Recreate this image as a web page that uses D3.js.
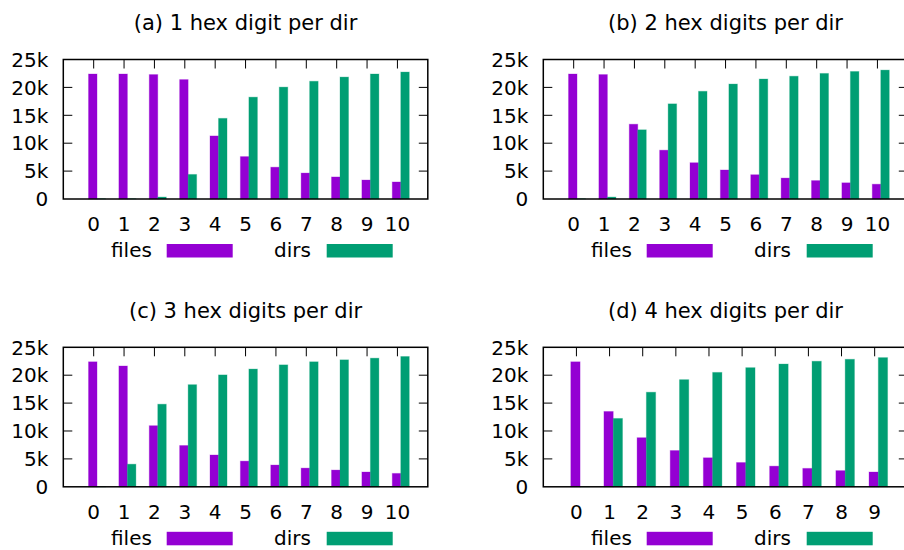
<!DOCTYPE html>
<html>
<head>
<meta charset="utf-8">
<script src="https://cdn.jsdelivr.net/npm/d3@7"></script>
<style>
  body { margin: 0; background: #fff; }
  svg { display: block; font-family: "DejaVu Sans", sans-serif; }
</style>
</head>
<body>
<div id="chart"></div>
<script>
// values (thousands)
const titles = ["(a) 1 hex digit per dir", "(b) 2 hex digits per dir", "(c) 3 hex digits per dir", "(d) 4 hex digits per dir"]
const levelsA = [0, 1, 2, 3, 4, 5, 6, 7, 8, 9, 10]
const levelsD = [0, 1, 2, 3, 4, 5, 6, 7, 8, 9]
const filesA = [22.4, 22.4, 22.3, 21.4, 11.3, 7.6, 5.7, 4.65, 3.95, 3.4, 3.05]
const dirsA  = [0.05, 0.05, 0.35, 4.4, 14.45, 18.25, 20.05, 21.1, 21.85, 22.4, 22.75]
const filesB = [22.4, 22.3, 13.4, 8.75, 6.5, 5.2, 4.35, 3.75, 3.3, 2.9, 2.65]
const dirsB  = [0.05, 0.35, 12.4, 17.05, 19.3, 20.6, 21.5, 22.0, 22.5, 22.85, 23.1]
const filesC = [22.4, 21.65, 10.95, 7.4, 5.7, 4.6, 3.9, 3.35, 3.0, 2.65, 2.4]
const dirsC  = [0.05, 4.05, 14.8, 18.3, 20.05, 21.1, 21.85, 22.4, 22.75, 23.05, 23.35]
const filesD = [22.4, 13.5, 8.8, 6.5, 5.2, 4.35, 3.7, 3.3, 2.9, 2.65]
const dirsD  = [0.05, 12.25, 16.95, 19.2, 20.5, 21.35, 22.0, 22.5, 22.85, 23.15]
const yTicks = [0, 5, 10, 15, 20, 25]
const yTickLabels = ["0", "5k", "10k", "15k", "20k", "25k"]
const seriesNames = ["files", "dirs"]
const colors = ["#9400d3", "#009e73"]

const panels = [
    { title: titles[0], levels: levelsA, files: filesA, dirs: dirsA, left: 63.3, top: 59.5 },
    { title: titles[1], levels: levelsA, files: filesB, dirs: dirsB, left: 543.3, top: 59.5 },
    { title: titles[2], levels: levelsA, files: filesC, dirs: dirsC, left: 63.3, top: 347.3 },
    { title: titles[3], levels: levelsD, files: filesD, dirs: dirsD, left: 543.3, top: 347.3 }
]

const width = 364.5, height = 139.5
const tickLen = 9

const svg = d3.select("#chart").append("svg")
    .attr("width", 904)
    .attr("height", 550)

panels.forEach(p => drawPanel(p))

function drawPanel(p) {
    const g = svg.append("g")
        .attr("transform", "translate(" + p.left + "," + p.top + ")")

    const n = p.levels.length
    const x = d3.scaleLinear().domain([-1, n]).range([0, width])
    const y = d3.scaleLinear().domain([0, 25]).range([height, 0])
    const s = x(1) - x(0)

    // title
    g.append("text")
        .attr("x", width / 2)
        .attr("y", -29.5)
        .attr("text-anchor", "middle")
        .style("font-size", "21px")
        .text(p.title)

    // y tick marks, left and mirrored right
    const inner = yTicks.filter(t => t > 0 && t < 25)
    g.selectAll(".ytl").data(inner).enter().append("line")
        .attr("x1", 0).attr("x2", tickLen)
        .attr("y1", d => y(d)).attr("y2", d => y(d))
        .attr("stroke", "#000").attr("stroke-width", 1)
    g.selectAll(".ytr").data(inner).enter().append("line")
        .attr("x1", width - tickLen).attr("x2", width)
        .attr("y1", d => y(d)).attr("y2", d => y(d))
        .attr("stroke", "#000").attr("stroke-width", 1)

    // x tick marks on top (mirror) and bottom
    g.selectAll(".xtt").data(p.levels).enter().append("line")
        .attr("x1", d => x(d)).attr("x2", d => x(d))
        .attr("y1", 0).attr("y2", tickLen)
        .attr("stroke", "#000").attr("stroke-width", 1)
    g.selectAll(".xtb").data(p.levels).enter().append("line")
        .attr("x1", d => x(d)).attr("x2", d => x(d))
        .attr("y1", height - tickLen).attr("y2", height)
        .attr("stroke", "#000").attr("stroke-width", 1)

    // bars
    const series = [p.files, p.dirs]
    const offsets = [-0.17, 0.11]
    series.forEach((vals, k) => {
        g.selectAll(".bar" + k).data(vals).enter().append("rect")
            .attr("x", (d, i) => x(p.levels[i]) + offsets[k] * s)
            .attr("width", 0.28 * s)
            .attr("y", d => y(d))
            .attr("height", d => height - y(d))
            .attr("fill", colors[k])
            .attr("stroke", colors[k])
            .attr("stroke-opacity", 0.3)
            .attr("stroke-width", 1)
    })

    // border
    g.append("rect")
        .attr("width", width).attr("height", height)
        .attr("fill", "none")
        .attr("stroke", "#000")
        .attr("stroke-width", 1.5)

    // y labels
    g.selectAll(".ylab").data(yTicks).enter().append("text")
        .attr("x", -15)
        .attr("y", d => y(d))
        .attr("dy", "0.36em")
        .attr("text-anchor", "end")
        .style("font-size", "20px")
        .text((d, i) => yTickLabels[i])

    // x labels
    g.selectAll(".xlab").data(p.levels).enter().append("text")
        .attr("x", d => x(d))
        .attr("y", height + 32)
        .attr("text-anchor", "middle")
        .style("font-size", "20px")
        .text(d => d)

    // legend
    const legX = [47.7, 210.7]
    const swX = [103.4, 263.4]
    seriesNames.forEach((name, k) => {
        g.append("text")
            .attr("x", legX[k])
            .attr("y", height + 58)
            .style("font-size", "20px")
            .text(name)
        g.append("rect")
            .attr("x", swX[k])
            .attr("y", height + 45)
            .attr("width", 66)
            .attr("height", 13.5)
            .attr("fill", colors[k])
    })
}
</script>
</body>
</html>
